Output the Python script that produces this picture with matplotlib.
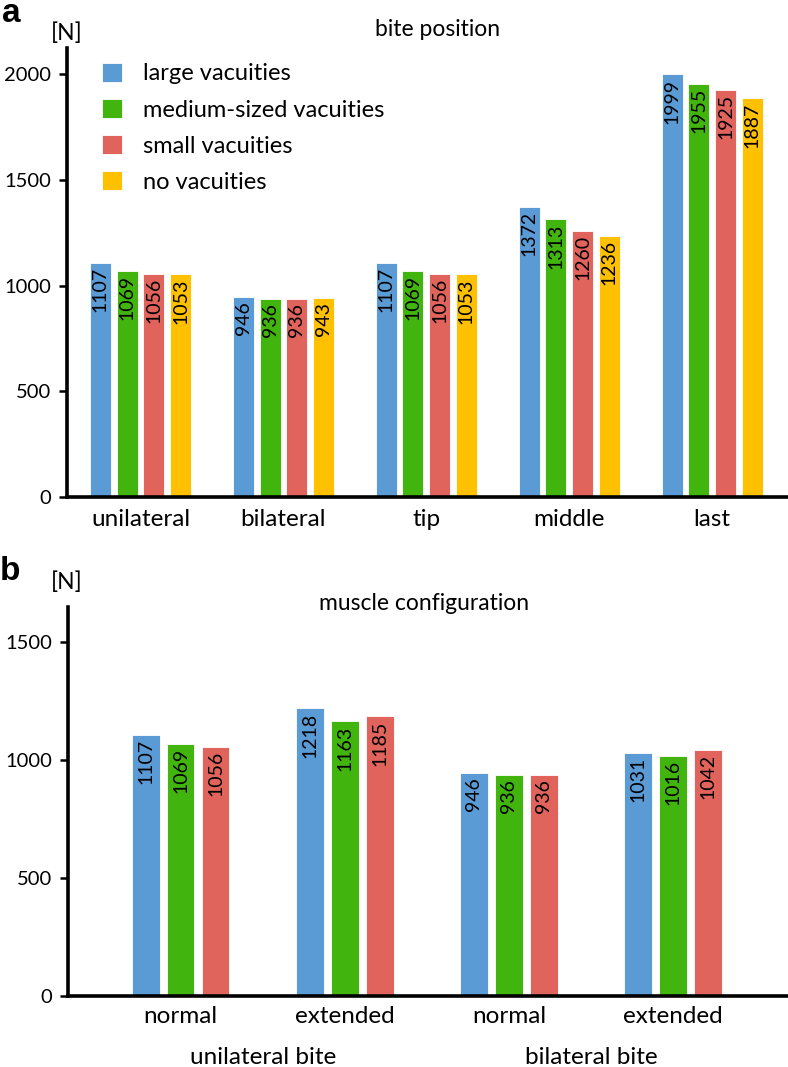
import matplotlib
matplotlib.use("Agg")
import matplotlib.pyplot as plt
import numpy as np

plt.rcParams['font.family'] = ['Lato', 'DejaVu Sans']

# ---- data ----
series_a = ["large vacuities", "medium-sized vacuities", "small vacuities", "no vacuities"]
cats_a = ["unilateral", "bilateral", "tip", "middle", "last"]
large_a = [1107, 946, 1107, 1372, 1999]
medium_a = [1069, 936, 1069, 1313, 1955]
small_a = [1056, 936, 1056, 1260, 1925]
none_a = [1053, 943, 1053, 1236, 1887]

cats_b = ["normal", "extended", "normal", "extended"]
groups_b = ["unilateral bite", "bilateral bite"]
large_b = [1107, 1218, 946, 1031]
medium_b = [1069, 1163, 936, 1016]
small_b = [1056, 1185, 936, 1042]

colors = ["#5B9BD5", "#41B40E", "#E0635C", "#FFC000"]

W, H = 788, 1067
fig = plt.figure(figsize=(W / 100, H / 100), dpi=100)

def style_axes(ax, xpad):
    for s in ["top", "right"]:
        ax.spines[s].set_visible(False)
    ax.spines["left"].set_linewidth(2.6)
    ax.spines["bottom"].set_linewidth(2.6)
    ax.tick_params(axis="y", direction="out", length=5.5, width=1.8, labelsize=14.5, pad=6)
    ax.tick_params(axis="x", length=0, labelsize=17.5, pad=xpad)

def bar_labels(ax, bars, vals, fs):
    for b, v in zip(bars, vals):
        ax.annotate(f"{v}", (b.get_x() + b.get_width() / 2, v),
                    xytext=(0, -3), textcoords="offset points",
                    rotation=90, ha="center", va="top", fontsize=fs, color="black")

# ---- panel a ----
axa = fig.add_axes([67 / W, 1 - 497 / H, 1 - 67 / W, (497 - 48) / H])
style_axes(axa, 9)
xa = np.arange(len(cats_a))
wa, da = 0.147, 0.187
handles = []
for i, (vals, c) in enumerate(zip([large_a, medium_a, small_a, none_a], colors)):
    bars = axa.bar(xa + (i - 1.5) * da, vals, width=wa, color=c, label=series_a[i],
                   edgecolor="white", linewidth=0.6)
    bar_labels(axa, bars, vals, 14)
    handles.append(bars)
axa.set_xlim(-0.514, 4.53)
axa.set_ylim(0, 2124)
axa.set_yticks([0, 500, 1000, 1500, 2000])
axa.set_xticks(xa)
axa.set_xticklabels(cats_a)
leg = axa.legend(handles=handles, loc="upper left",
                 bbox_to_anchor=((102 - 67) / (W - 67), (497 - 63) / (497 - 48)),
                 frameon=False, fontsize=17, handlelength=0.83, handleheight=0.83,
                 handletextpad=0.9, labelspacing=0.62, borderaxespad=0, borderpad=0)
fig.text(438 / W, 1 - 30 / H, "bite position", ha="center", va="center", fontsize=16.5)
fig.text(67 / W, 1 - 33 / H, "[N]", ha="center", va="center", fontsize=16.5)
fig.text(11 / W, 1 - 14 / H, "a", ha="center", va="center", fontsize=24, fontweight="bold",
         family=["Liberation Sans"])

# ---- panel b ----
axb = fig.add_axes([68 / W, 1 - 996 / H, 1 - 68 / W, (996 - 607) / H])
style_axes(axb, 7)
xb = np.arange(len(cats_b))
wb, db = 0.169, 0.213
for i, (vals, c) in enumerate(zip([large_b, medium_b, small_b], colors)):
    bars = axb.bar(xb + (i - 1) * db, vals, width=wb, color=c,
                   edgecolor="white", linewidth=0.6)
    bar_labels(axb, bars, vals, 14)
axb.set_xlim(-0.686, 3.70)
axb.set_ylim(0, 1648)
axb.set_yticks([0, 500, 1000, 1500])
axb.set_xticks(xb)
axb.set_xticklabels(cats_b)
for j, g in enumerate(groups_b):
    axb.annotate(g, (2 * j + 0.5, 0), xycoords=("data", "axes fraction"),
                 xytext=(0, -(1064 - 996) * 0.72), textcoords="offset points",
                 ha="center", va="baseline", fontsize=17.5)
fig.text(424 / W, 1 - 604 / H, "muscle configuration", ha="center", va="center", fontsize=16.5)
fig.text(67 / W, 1 - 582 / H, "[N]", ha="center", va="center", fontsize=16.5)
fig.text(10 / W, 1 - 572 / H, "b", ha="center", va="center", fontsize=24, fontweight="bold",
         family=["Liberation Sans"])

fig.savefig("out.png", dpi=100)
